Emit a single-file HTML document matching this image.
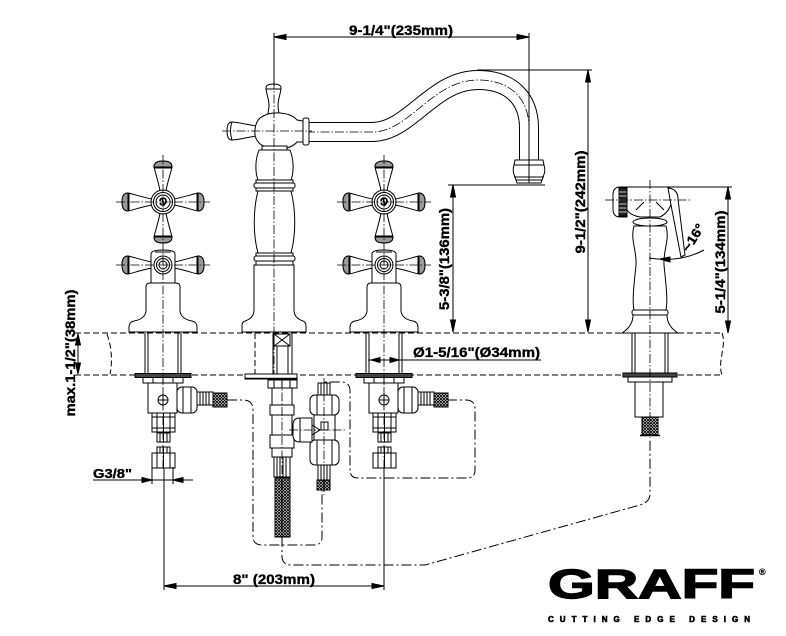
<!DOCTYPE html>
<html><head><meta charset="utf-8">
<style>
html,body{margin:0;padding:0;background:#fff;width:786px;height:636px;overflow:hidden}
svg{display:block}
text{font-family:"Liberation Sans",Arial,sans-serif;font-weight:bold;fill:#000;stroke:#000;stroke-width:0.35}
.cl{stroke:#000;stroke-width:0.8;stroke-dasharray:9 2 1.5 2;fill:none}
.dd{stroke:#000;stroke-width:1;stroke-dasharray:10 3 2 3;fill:none}
.da{stroke:#000;stroke-width:1;stroke-dasharray:6 3;fill:none}
</style></head><body>
<svg width="786" height="636" viewBox="0 0 786 636" xmlns="http://www.w3.org/2000/svg">
<defs>
<pattern id="br" width="3" height="3" patternUnits="userSpaceOnUse">
<rect width="3" height="3" fill="#fff"/>
<path d="M0,0L3,3M3,0L0,3" stroke="#000" stroke-width="0.9"/>
</pattern>
<g id="arm">
<path d="M-3,-11 C-4,-18 -8,-30 -9,-35 Q-9,-41 0,-41 Q9,-41 9,-35 C8,-30 4,-18 3,-11" fill="#fff"/>
<path d="M-9,-35 Q-9,-41 0,-41 Q9,-41 9,-35 Z" fill="#9a9a9a"/>
<path d="M-8.5,-34 L8.5,-34"/>
</g>
<g id="valve">
<g transform="translate(0,202)">
<use href="#arm"/><use href="#arm" transform="rotate(90)"/><use href="#arm" transform="rotate(180)"/><use href="#arm" transform="rotate(270)"/>
<circle r="12" fill="#fff"/><circle r="9.5"/><circle r="7"/>
<path d="M-3,-1 C-3,-5 3,-5 3,-1 C3,3 -2,4 -3,1 M-1,-4 L1,4" stroke-width="1.6"/>
</g>
<g transform="translate(0,265)">
<use href="#arm" transform="rotate(-90)"/><use href="#arm" transform="rotate(90)"/>
<path d="M-12,18 L-12,-11 Q-12,-15 0,-15 Q12,-15 12,-11 L12,18" fill="#fff"/>
<path d="M-8,-13 L8,-13"/>
<circle r="9"/><circle r="6.5"/><circle r="4"/>
</g>
<path d="M-17,287 Q-17,283 -13,283 L13,283 Q17,283 17,287 L17,311 Q18,319 29,321 Q34,322 34,327 L34,332 L-34,332 L-34,327 Q-34,322 -29,321 Q-18,319 -17,311 Z" fill="#fff"/>
<path d="M-18,333V374M-15,333V374M15,333V374M18,333V374"/>
<rect x="-28" y="373.5" width="56" height="4" fill="#444"/>
<rect x="-20" y="377.5" width="40" height="5.5" fill="#fff"/>
<path d="M-10,377.5V383M0,377.5V383M10,377.5V383"/>
<rect x="-15" y="383" width="29" height="30" fill="#fff"/>
<circle cx="0" cy="400" r="5"/><path d="M-5,400H5M0,395V405"/>
<rect x="14" y="387" width="20" height="26" rx="5" fill="#fff"/>
<path d="M20,387.5V412.5M28,387.5V412.5"/>
<rect x="34" y="392" width="16" height="13" fill="#fff"/>
<path d="M37,392V405M40,392V405M43,392V405M46,392V405"/>
<rect x="50" y="393" width="14" height="14" fill="url(#br)"/>
<rect x="-11" y="413" width="23" height="19" fill="#fff"/>
<path d="M-6,413V432M0.5,413V432M7,413V432M-11,417H12M-11,428H12"/>
<rect x="-6" y="433" width="13" height="9" fill="#fff"/>
<path d="M-3,433V442M0.5,433V442M4,433V442"/>
<rect x="-6" y="447" width="13" height="6" fill="#fff"/>
<path d="M-3,447V453M0.5,447V453M4,447V453"/>
<rect x="-11" y="453" width="23" height="15" fill="#fff"/>
<path d="M-6,453V468M0.5,453V468M7,453V468"/>
<line class="cl" x1="0" y1="155" x2="0" y2="470"/>
<line class="cl" x1="-47" y1="202" x2="47" y2="202"/>
<line class="cl" x1="-47" y1="265" x2="47" y2="265"/>
</g>
</defs>

<g fill="none" stroke="#000" stroke-width="1">

<line class="da" x1="75" y1="333" x2="722" y2="333"/>
<line class="da" x1="75" y1="375" x2="722" y2="375"/>
<path class="da" d="M107,334 Q114,354 110,374"/>
<path class="da" d="M722,333 C727,345 717,362 722,375"/>

<path class="dd" d="M227,400 L243,400 Q253,400 253,410 L253,536 Q253,545 262,545 L314,545 Q322,545 322,537 L322,490"/>
<path class="dd" d="M447,400 L466,400 Q475,400 475,409 L475,470 Q475,478 467,478 L358,478 Q350,478 350,470 L350,391 Q350,382 341,382 L324,382"/>
<path class="dd" d="M282,537 L282,556 Q282,565 291,565 L425,565 L640,505 Q650,502 650,494 L650,437"/>

<use href="#valve" transform="translate(163,0)"/>
<use href="#valve" transform="translate(384,0)"/>

<path d="M306,132 L372,132 C410,132 432,80 478,80 C512,80 529,100 529,128 L529,162" stroke="#000" stroke-width="20"/>
<path d="M306,132 L372,132 C410,132 432,80 478,80 C512,80 529,100 529,128 L529,162" stroke="#fff" stroke-width="18"/>
<path class="cl" d="M306,132 L372,132 C410,132 432,80 478,80 C512,80 529,100 529,128 L529,162"/>
<path d="M515,160 L543,160 L544,165 Q546,171 543,177 L541,183 L517,183 L515,177 Q512,171 514,165 Z" fill="#fff"/>
<path d="M514,165H544M514,177H544M516,180H542"/>

<path d="M266,88 Q266,84 273.5,84 Q281,84 281,88 C281,93 278,98 278,106 L279,114 L268,114 L269,106 C269,98 266,93 266,88 Z" fill="#fff"/>
<path d="M266,89H281"/>
<path d="M257,126 C248,125 238,122 232,122 Q227,122 227,131 Q227,140 232,140 C238,140 248,137 257,136" fill="#fff"/>
<path d="M232,122 Q229,131 232,140"/>
<path d="M260,118 Q268,112 280,113 Q292,114 297,120 L303,121 L303,142 L297,142 Q292,148 280,149 Q268,149 260,144 Q254,138 255,131 Q255,123 260,118 Z" fill="#fff"/>
<rect x="303" y="118" width="6" height="27" rx="2" fill="#fff"/>
<path d="M262,146 L287,146 L287,150 L262,150 Z" fill="#fff"/>
<path d="M259,150 C255,160 255,172 258,180 L291,180 C294,172 294,160 290,150 Z" fill="#fff"/>
<rect x="256" y="180" width="37" height="3" fill="#fff"/>
<rect x="254" y="183" width="41" height="5" rx="2" fill="#fff"/>
<rect x="256" y="188" width="37" height="3" fill="#fff"/>
<path d="M258,191 C253,210 253,235 258,253 L291,253 C296,235 296,210 291,191 Z" fill="#fff"/>
<rect x="256" y="253" width="37" height="3" fill="#fff"/>
<rect x="254" y="256" width="41" height="5" rx="2" fill="#fff"/>
<rect x="256" y="261" width="37" height="4" fill="#fff"/>
<path d="M254,265 L254,310 Q254,318 245,321 Q242,322 242,326 L242,332 L306,332 L306,326 Q306,322 303,321 Q294,318 294,310 L294,265 Z" fill="#fff"/>
<line class="cl" x1="274" y1="80" x2="274" y2="382"/>
<line class="cl" x1="222" y1="131" x2="312" y2="131"/>

<line class="da" x1="255" y1="333" x2="255" y2="374"/>
<path d="M273,333V374M277,333V374M288,333V374M292,333V374"/>
<rect x="274" y="334" width="16" height="12" fill="#fff"/>
<path d="M274,334L290,346M290,334L274,346"/>
<rect x="245" y="374" width="52" height="5" fill="#fff"/>
<path d="M245,378.5H297" stroke-width="1.5"/>
<rect x="268" y="380" width="29" height="8" fill="#fff"/>
<path d="M274,380V388M282,380V388M290,380V388"/>
<rect x="272" y="388" width="20" height="69" fill="#fff"/>
<rect x="270" y="405" width="24" height="10" fill="#fff"/>
<rect x="270" y="435" width="24" height="13" fill="#fff"/>
<rect x="274" y="457" width="16" height="20" fill="#fff"/>
<path d="M277,457V477M280,457V477M283,457V477M286,457V477"/>
<rect x="275" y="478" width="15" height="59" fill="url(#br)"/>
<rect x="318" y="383" width="12" height="12" fill="#fff"/>
<path d="M321,383V395M324,383V395M327,383V395"/>
<rect x="310" y="395" width="29" height="20" rx="5" fill="#fff"/>
<rect x="314" y="415" width="21" height="25" fill="#fff"/>
<rect x="310" y="440" width="29" height="25" rx="5" fill="#fff"/>
<path d="M317,395V415M332,395V415M317,440V465M332,440V465"/>
<path d="M312,418 L300,418 Q293,418 293,425 L293,435 Q293,442 300,442 L312,442 Z" fill="#fff"/>
<path d="M300,418V442M312,425L320,430L312,435"/>
<rect x="321" y="422" width="7" height="8"/>
<rect x="318" y="465" width="12" height="15" fill="#fff"/>
<path d="M321,465V480M324,465V480M327,465V480"/>
<rect x="317" y="480" width="13" height="10" fill="url(#br)"/>
<line class="cl" x1="324" y1="378" x2="324" y2="495"/>
<line class="cl" x1="289" y1="430" x2="345" y2="430"/>
<line class="cl" x1="282" y1="378" x2="282" y2="540"/>

<path d="M627,187 L620,187 Q613,187 613,195 L613,209 Q613,217 620,217 L627,217 Z" fill="#fff"/>
<rect x="619" y="188" width="8" height="28" fill="#222"/>
<path d="M619,192H627M619,196H627M619,200H627M619,204H627M619,208H627M619,212H627" stroke="#fff" stroke-width="0.8"/>
<path d="M627,187 L668,187 Q674,190 672,200 Q670,212 660,217 L640,217 Q630,215 627,210 Z" fill="#fff"/>
<path d="M636,210 L644,202 M664,210 L656,202"/>
<path d="M668,188 Q678,189 678,199 L685,255 L681,257 L671,205 Z" fill="#fff"/>
<ellipse cx="650" cy="222" rx="17" ry="4" fill="#fff"/>
<path d="M634,226 C630,240 637,250 636,265 C634,285 632,300 634,310 L666,310 C668,300 666,285 664,265 C663,250 670,240 666,226 Z" fill="#fff"/>
<rect x="632" y="310" width="36" height="5" rx="2" fill="#fff"/>
<path d="M633,315 Q633,326 622,333 L678,333 Q667,326 667,315 Z" fill="#fff"/>
<path d="M649,258 Q680,263 704,250"/>
<polygon points="660,259 670,257 670,262" fill="#000"/>
<path d="M632,333V373M635,333V373M665,333V373M668,333V373"/>
<rect x="623" y="373" width="54" height="4" fill="#444"/>
<rect x="628" y="377" width="44" height="5" fill="#fff"/>
<rect x="635" y="382" width="28" height="35" fill="#fff"/>
<rect x="642" y="417" width="16" height="18" fill="url(#br)"/>
<path d="M640,435.5H660" stroke-width="1.5"/>
<line class="cl" x1="650" y1="180" x2="650" y2="437"/>
<line class="cl" x1="605" y1="200" x2="690" y2="200"/>

<path d="M274,37H529M274,33V86M529,33V183"/>
<polygon points="274,37 286,34.5 286,39.5" fill="#000"/>
<polygon points="529,37 517,34.5 517,39.5" fill="#000"/>

<path d="M453,185V332M448,185H545"/>
<polygon points="453,185 450.5,197 455.5,197" fill="#000"/>
<polygon points="453,332 450.5,320 455.5,320" fill="#000"/>

<path d="M588,70V332M477,70H592"/>
<polygon points="588,70 585.5,82 590.5,82" fill="#000"/>
<polygon points="588,332 585.5,320 590.5,320" fill="#000"/>

<path d="M728,187V333M668,187H732"/>
<polygon points="728,187 725.5,199 730.5,199" fill="#000"/>
<polygon points="728,333 725.5,321 730.5,321" fill="#000"/>

<path d="M78,333V374"/>
<polygon points="78,334 75.5,345 80.5,345" fill="#000"/>
<polygon points="78,374 75.5,363 80.5,363" fill="#000"/>

<path d="M368,360H541"/>
<polygon points="371,360 380,357.5 380,362.5" fill="#000"/>
<polygon points="399,360 390,357.5 390,362.5" fill="#000"/>

<path d="M93,480H193M152,467V484M173,467V484"/>
<polygon points="152,480 142,477.5 142,482.5" fill="#000"/>
<polygon points="173,480 183,477.5 183,482.5" fill="#000"/>

<path d="M164,468V590M384,468V590M164,586H384"/>
<polygon points="164,586 176,583.5 176,588.5" fill="#000"/>
<polygon points="384,586 372,583.5 372,588.5" fill="#000"/>
</g>

<text x="401" y="35" text-anchor="middle" font-size="14" textLength="104" lengthAdjust="spacingAndGlyphs">9-1/4"(235mm)</text>
<text transform="translate(449,259) rotate(-90)" text-anchor="middle" font-size="14" textLength="102" lengthAdjust="spacingAndGlyphs">5-3/8"(136mm)</text>
<text transform="translate(585,202) rotate(-90)" text-anchor="middle" font-size="14" textLength="103" lengthAdjust="spacingAndGlyphs">9-1/2"(242mm)</text>
<text transform="translate(725,262) rotate(-90)" text-anchor="middle" font-size="14" textLength="103" lengthAdjust="spacingAndGlyphs">5-1/4"(134mm)</text>
<text transform="translate(75,353) rotate(-90)" text-anchor="middle" font-size="14" textLength="127" lengthAdjust="spacingAndGlyphs">max.1-1/2"(38mm)</text>
<text x="413" y="357" font-size="14" textLength="127" lengthAdjust="spacingAndGlyphs">Ø1-5/16"(Ø34mm)</text>
<text x="93" y="478" font-size="13" textLength="39" lengthAdjust="spacingAndGlyphs">G3/8"</text>
<text x="233" y="584" font-size="14" textLength="82" lengthAdjust="spacingAndGlyphs">8" (203mm)</text>
<text transform="translate(697,240) rotate(-58)" text-anchor="middle" font-size="13" textLength="30" lengthAdjust="spacingAndGlyphs">~16°</text>

<text x="548" y="598" font-size="41" font-weight="900" textLength="207" lengthAdjust="spacingAndGlyphs" style="stroke-width:1.4">GRAFF</text>
<text x="759" y="575" font-size="9" style="stroke-width:0.2">®</text>
<text x="548" y="622" font-size="8" textLength="202" lengthAdjust="spacing" style="stroke-width:0.6">CUTTING EDGE DESIGN</text>
</svg>
</body></html>
